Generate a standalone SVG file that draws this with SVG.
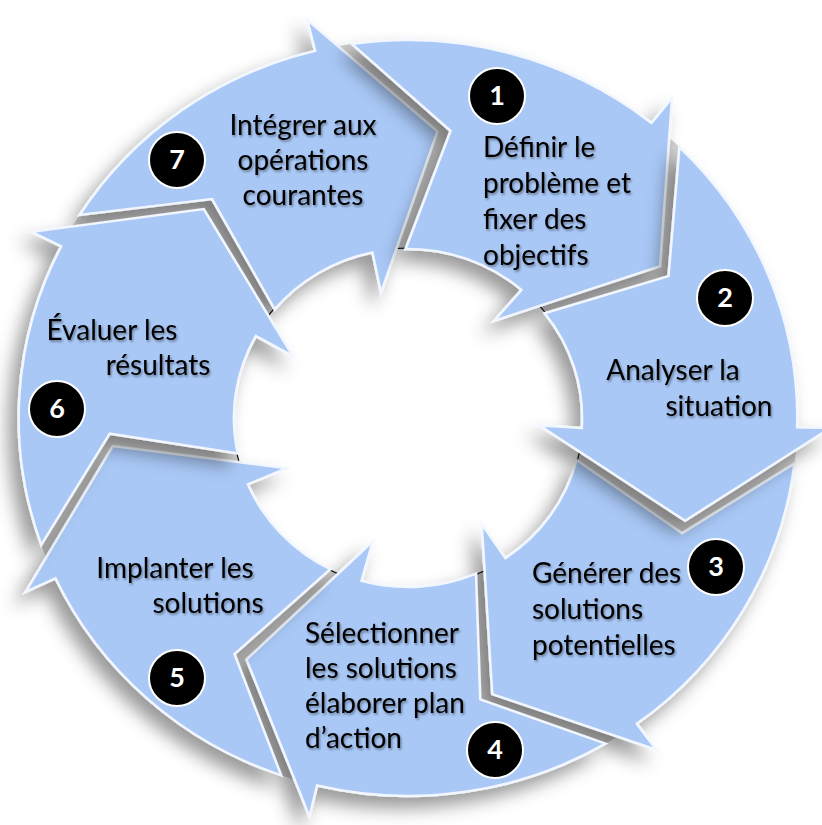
<svg xmlns="http://www.w3.org/2000/svg" width="822" height="825" viewBox="0 0 822 825">
<defs>
<style>
.seg{fill:#a9c8f6;stroke:#f2f7ff;stroke-width:2.5;stroke-linejoin:miter;filter:url(#segShadow)}
.lbl{font-family:Lato,"Open Sans","Liberation Sans",sans-serif;font-size:28px;fill:#000;filter:url(#txtShadow)}
.badge{fill:#000;stroke:#fff;stroke-width:2}
.num{font-family:Lato,"Open Sans","Liberation Sans",sans-serif;font-size:27px;font-weight:bold;fill:#fff;text-anchor:middle}
.gap{fill:#d2d2d2;fill-rule:evenodd}
</style>
<filter id="segShadow" x="-40%" y="-40%" width="180%" height="180%">
<feDropShadow dx="-9" dy="11" stdDeviation="9" flood-color="#000" flood-opacity="0.4"/>
</filter>
<filter id="txtShadow" x="-10%" y="-40%" width="120%" height="180%">
<feDropShadow dx="1.2" dy="1.8" stdDeviation="1.2" flood-color="#000" flood-opacity="0.4"/>
</filter>
</defs>
<rect width="822" height="825" fill="#fff"/>
<g id="connectors">
<g transform="translate(408 418) scale(1.03 1)">
<path class="gap" d="M0 -378 A378 378 0 1 1 0 378 A378 378 0 1 1 0 -378 Z M0 -169 A169 169 0 1 0 0 169 A169 169 0 1 0 0 -169 Z"/>
<circle r="170" fill="none" stroke="#000" stroke-width="1"/>
</g>
</g>
<g id="node-7">
<path class="seg" transform="translate(408 418) scale(1.03 1)" d="M-318.80 -203.10 A378 378 0 0 1 -90.16 -367.09 L-97.80 -398.16 L28.60 -286.58 L-26.18 -125.30 L-34.56 -165.43 A169 169 0 0 0 -129.46 -108.63 L-190.26 -218.87 Z"/>
<text class="lbl" text-anchor="middle"><tspan x="303" y="135">Intégrer aux</tspan><tspan x="303" y="170">opérations</tspan><tspan x="303" y="205">courantes</tspan></text>
<circle class="badge" cx="177" cy="160" r="28"/>
<text class="num" x="177" y="169">7</text>
</g>
<g id="node-1">
<path class="seg" transform="translate(408 418) scale(1.03 1)" d="M-54.57 -374.04 A378 378 0 0 1 236.34 -295.00 L256.35 -319.98 L244.77 -151.76 L83.47 -97.04 L110.20 -128.12 A169 169 0 0 0 -2.36 -168.98 L41.36 -287.04 Z"/>
<text class="lbl"><tspan x="483" y="157">Définir le</tspan><tspan x="483" y="193">problème et</tspan><tspan x="483" y="229">fixer des</tspan><tspan x="483" y="265">objectifs</tspan></text>
<circle class="badge" cx="497" cy="96" r="28"/>
<text class="num" x="497" y="105">1</text>
</g>
<g id="node-3">
<path class="seg" transform="translate(408 418) scale(1.03 1)" d="M375.26 45.41 A378 378 0 0 1 222.18 305.81 L241.00 331.70 L81.80 276.14 L71.58 106.12 L94.50 140.11 A169 169 0 0 0 163.69 42.03 L266.15 115.17 Z"/>
<text class="lbl"><tspan x="532" y="583">Générer des</tspan><tspan x="532" y="619">solutions</tspan><tspan x="532" y="655">potentielles</tspan></text>
<circle class="badge" cx="716" cy="567" r="28"/>
<text class="num" x="716" y="576">3</text>
</g>
<g id="node-2">
<path class="seg" transform="translate(408 418) scale(1.03 1)" d="M263.53 -271.00 A378 378 0 0 1 377.89 9.23 L409.88 10.02 L269.05 102.74 L127.77 7.59 L168.70 10.02 A169 169 0 0 0 132.63 -104.74 L252.90 -141.92 Z"/>
<text class="lbl" text-anchor="middle"><tspan x="673" y="380">Analyser la</tspan><tspan x="719" y="416">situation</tspan></text>
<circle class="badge" cx="725" cy="298" r="28"/>
<text class="num" x="725" y="307">2</text>
</g>
<g id="node-4">
<path class="seg" transform="translate(408 418) scale(1.03 1)" d="M191.85 325.70 A378 378 0 0 1 -88.24 367.56 L-95.71 398.67 L-156.86 241.54 L-34.21 123.34 L-45.16 162.85 A169 169 0 0 0 66.03 155.56 L70.16 281.39 Z"/>
<text class="lbl"><tspan x="305" y="643">Sélectionner</tspan><tspan x="305" y="678">les solutions</tspan><tspan x="305" y="713">élaborer plan</tspan><tspan x="305" y="748">d’action</tspan></text>
<circle class="badge" cx="495" cy="750" r="28"/>
<text class="num" x="495" y="759">4</text>
</g>
<g id="node-5">
<path class="seg" transform="translate(408 418) scale(1.03 1)" d="M-123.07 357.41 A378 378 0 0 1 -342.31 160.34 L-371.28 173.92 L-286.63 28.10 L-117.74 50.22 L-155.45 66.31 A169 169 0 0 0 -75.41 151.24 L-168.40 236.09 Z"/>
<text class="lbl" text-anchor="middle"><tspan x="175" y="578">Implanter les</tspan><tspan x="208" y="613">solutions</tspan></text>
<circle class="badge" cx="177" cy="678" r="28"/>
<text class="num" x="177" y="687">5</text>
</g>
<g id="node-6">
<path class="seg" transform="translate(408 418) scale(1.03 1)" d="M-356.10 126.80 A378 378 0 0 1 -336.80 -171.61 L-365.31 -186.14 L-198.24 -208.91 L-111.95 -62.06 L-147.81 -81.93 A169 169 0 0 0 -165.24 35.43 L-289.58 15.68 Z"/>
<text class="lbl" text-anchor="middle"><tspan x="112" y="340">Évaluer les</tspan><tspan x="158" y="375">résultats</tspan></text>
<circle class="badge" cx="57" cy="409" r="28"/>
<text class="num" x="57" y="418">6</text>
</g>
</svg>
